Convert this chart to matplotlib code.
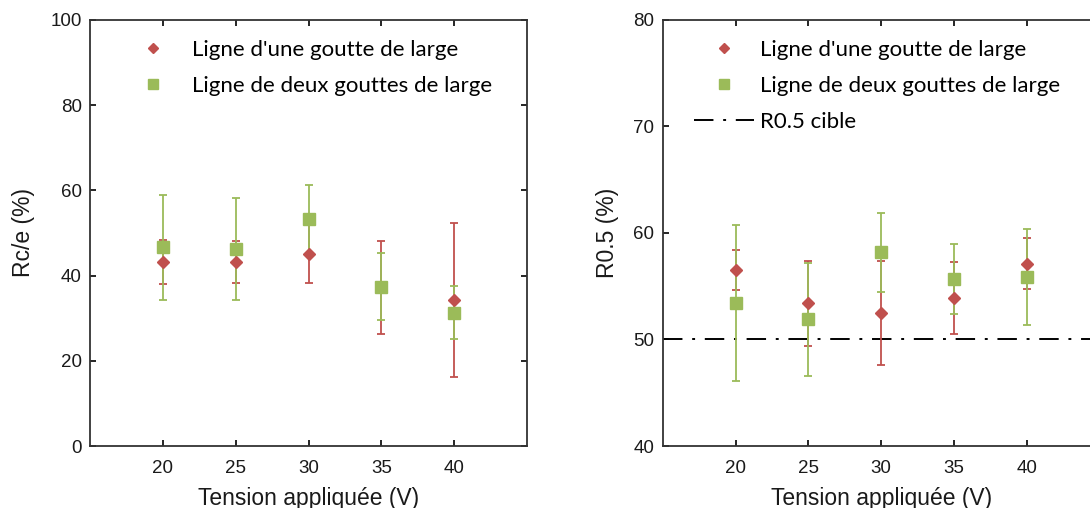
import matplotlib
matplotlib.use("Agg")
import matplotlib.pyplot as plt
from matplotlib.lines import Line2D

# Data
tension = [20, 25, 30, 35, 40]

rce_une = [43.2, 43.2, 45.1, 37.2, 34.3]
rce_une_err = [5.1, 5.0, 6.9, 10.9, 18.0]
rce_deux = [46.6, 46.2, 53.2, 37.4, 31.3]
rce_deux_err = [12.3, 12.0, 8.1, 7.9, 6.2]

r05_une = [56.5, 53.4, 52.5, 53.9, 57.1]
r05_une_err = [1.9, 4.0, 4.9, 3.4, 2.4]
r05_deux = [53.4, 51.9, 58.2, 55.7, 55.9]
r05_deux_err = [7.3, 5.3, 3.7, 3.3, 4.5]

r05_cible = 50

lab_une = "Ligne d'une goutte de large"
lab_deux = "Ligne de deux gouttes de large"
lab_cible = "R0.5 cible"
xlabel = "Tension appliquée (V)"

RED = "#C0504D"
GREEN = "#9BBB59"

fig = plt.figure(figsize=(10.9, 5.08), dpi=100)
ax1 = fig.add_axes([0.0826, 0.122, 0.401, 0.839])
ax2 = fig.add_axes([0.608, 0.122, 0.401, 0.839])

TFAM = ["Liberation Sans", "DejaVu Sans"]
TSIZE = 13.5
LSIZE = 16.5
TXT = "#1a1a1a"
leg_font = {"family": "Lato", "size": 16}


def style_ticks(ax):
    for lab in ax.get_xticklabels() + ax.get_yticklabels():
        lab.set_fontfamily(TFAM)
        lab.set_fontsize(TSIZE)
        lab.set_color(TXT)


def draw(ax, y1, e1, y2, e2):
    ax.errorbar(tension, y1, yerr=e1, fmt="none", ecolor=RED, elinewidth=1.3,
                capsize=3, capthick=1.3, zorder=2)
    ax.errorbar(tension, y2, yerr=e2, fmt="none", ecolor=GREEN, elinewidth=1.3,
                capsize=3, capthick=1.3, zorder=3)
    ax.plot(tension, y1, linestyle="none", marker="D", color=RED, ms=6.5,
            mec=RED, zorder=4)
    ax.plot(tension, y2, linestyle="none", marker="s", color=GREEN, ms=9,
            mec=GREEN, zorder=5)
    ax.set_xlim(15, 45)
    ax.set_xticks(tension)
    ax.tick_params(direction="in", top=True, right=True, length=4, width=1.2,
                   pad=6)
    ax.tick_params(axis="x", pad=10)
    ax.set_xlabel(xlabel, fontfamily=TFAM, fontsize=LSIZE, labelpad=7, color=TXT)
    for s in ax.spines.values():
        s.set_linewidth(1.3)
        s.set_color("#333333")


draw(ax1, rce_une, rce_une_err, rce_deux, rce_deux_err)
ax1.set_ylim(0, 100)
ax1.set_yticks([0, 20, 40, 60, 80, 100])
style_ticks(ax1)
ax1.set_ylabel("Rc/e (%)", fontfamily=TFAM, fontsize=LSIZE, labelpad=11, color=TXT)

draw(ax2, r05_une, r05_une_err, r05_deux, r05_deux_err)
ax2.axhline(r05_cible, color="black", lw=1.4, linestyle=(0, (10, 5, 1.5, 5)), zorder=1)
ax2.set_ylim(40, 80)
ax2.set_yticks([40, 50, 60, 70, 80])
style_ticks(ax2)
ax2.set_ylabel("R0.5 (%)", fontfamily=TFAM, fontsize=LSIZE, labelpad=10, color=TXT)

h_une = Line2D([], [], linestyle="none", marker="D", color=RED, ms=5.5)
h_deux = Line2D([], [], linestyle="none", marker="s", color=GREEN, ms=7)
h_cible = Line2D([], [], color="black", lw=1.4, linestyle=(0, (10, 5, 1.5, 5)))

ax1.legend([h_une, h_deux], [lab_une, lab_deux], loc="upper left",
           bbox_to_anchor=(0.035, 1.0), frameon=False, prop=leg_font,
           handlelength=2.5, handletextpad=0.5, labelspacing=0.72)
ax2.legend([h_une, h_deux, h_cible], [lab_une, lab_deux, lab_cible], loc="upper left",
           bbox_to_anchor=(0.025, 1.0), frameon=False, prop=leg_font,
           handlelength=2.7, handletextpad=0.3, labelspacing=0.72)

fig.savefig("out.png", dpi=100)
